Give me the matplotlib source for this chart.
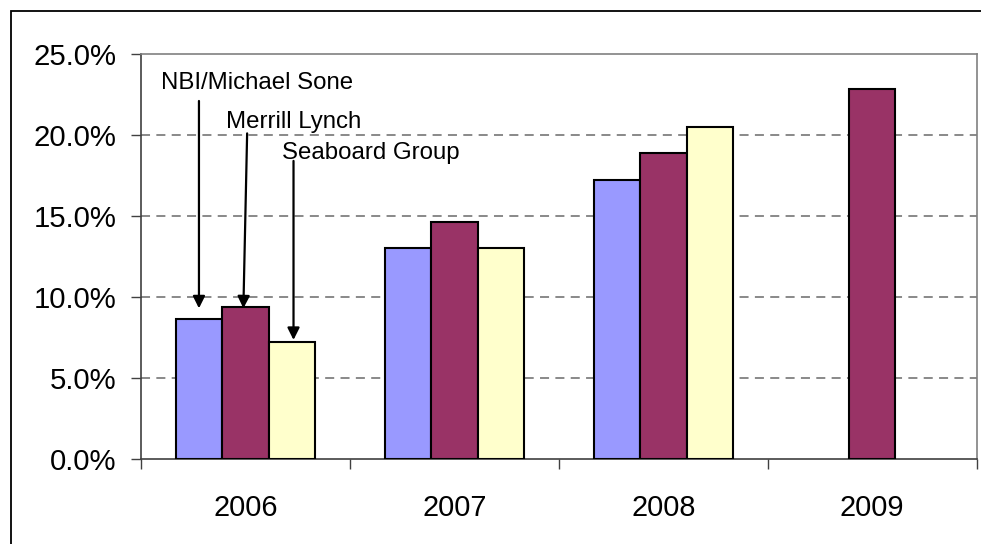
import matplotlib
matplotlib.use("Agg")
import matplotlib.pyplot as plt
import matplotlib.patches as patches
import numpy as np

plt.rcParams["font.family"] = ["Liberation Sans", "DejaVu Sans"]

# Dane (w procentach)
years = ["2006", "2007", "2008", "2009"]
series_names = ["NBI/Michael Sone", "Merrill Lynch", "Seaboard Group"]
nbi = [8.65, 13.0, 17.2, np.nan]
merrill = [9.4, 14.6, 18.9, 22.85]
seaboard = [7.2, 13.0, 20.5, np.nan]
colors = ["#9999FF", "#993366", "#FFFFCC"]

# Strzałki: początek i koniec (x w jednostkach kategorii, y w %)
arrow_start = [(-0.2226, 22.1), (0.008, 20.1), (0.23, 18.4)]
arrow_tip = [(-0.2226, 9.3), (-0.01, 9.3), (0.23, 7.35)]
label_pos = [(-0.402, 22.85), (-0.095, 20.45), (0.1735, 18.5)]

fig = plt.figure(figsize=(9.81, 5.44), dpi=100)
ax = fig.add_axes([141 / 981, 85 / 544, 835.7 / 981, 405 / 544])

x = np.arange(len(years))
w = 0.2226
for j, vals in enumerate([nbi, merrill, seaboard]):
    pos = x + (j - 1) * w
    # dla 2009 jest tylko jedna seria - wyśrodkowana
    ax.bar(pos, vals, width=w, color=colors[j], edgecolor="black",
           linewidth=1.5, zorder=3, label=series_names[j])

ax.set_xlim(-0.5, len(years) - 0.5)
ax.set_ylim(0, 25)
ax.set_yticks(np.arange(0, 26, 5))
ax.set_yticklabels([f"{v:.1f}%" for v in np.arange(0, 26, 5)])
ax.set_xticks(x)
ax.set_xticklabels(years)
ax.set_xticks(np.arange(-0.5, len(years)), minor=True)

ax.tick_params(axis="x", which="major", length=0, pad=25.5, labelsize=20.8)
ax.tick_params(axis="x", which="minor", length=7.5, width=1, color="#404040",
               direction="out")
ax.tick_params(axis="y", length=7.5, width=1, color="#404040", pad=10,
               labelsize=21.2)

for y in [5, 10, 15, 20]:
    ax.axhline(y, color="#808080", linewidth=1.3, linestyle=(0, (5, 3.5)),
               zorder=1)

ax.spines["left"].set_color("#404040")
ax.spines["bottom"].set_color("#404040")
ax.spines["top"].set_color("#808080")
ax.spines["right"].set_color("#808080")
for s in ax.spines.values():
    s.set_linewidth(1.2)

for name, (tx, ty), st, tip in zip(series_names, label_pos, arrow_start, arrow_tip):
    ax.text(tx, ty, name, fontsize=17.3, va="baseline", ha="left", zorder=5)
    ax.annotate("", xy=tip, xytext=st,
                arrowprops=dict(arrowstyle="-|>", color="black", lw=1.6,
                                mutation_scale=18, shrinkA=0, shrinkB=0),
                zorder=5)

# Ramka wokół całego wykresu
frame = patches.Rectangle((10.5 / 981, -0.05), 1.0, 1.05 - 10.5 / 544,
                          transform=fig.transFigure, fill=False,
                          edgecolor="black", linewidth=1.3)
fig.patches.append(frame)

fig.savefig("out.png", dpi=100)
